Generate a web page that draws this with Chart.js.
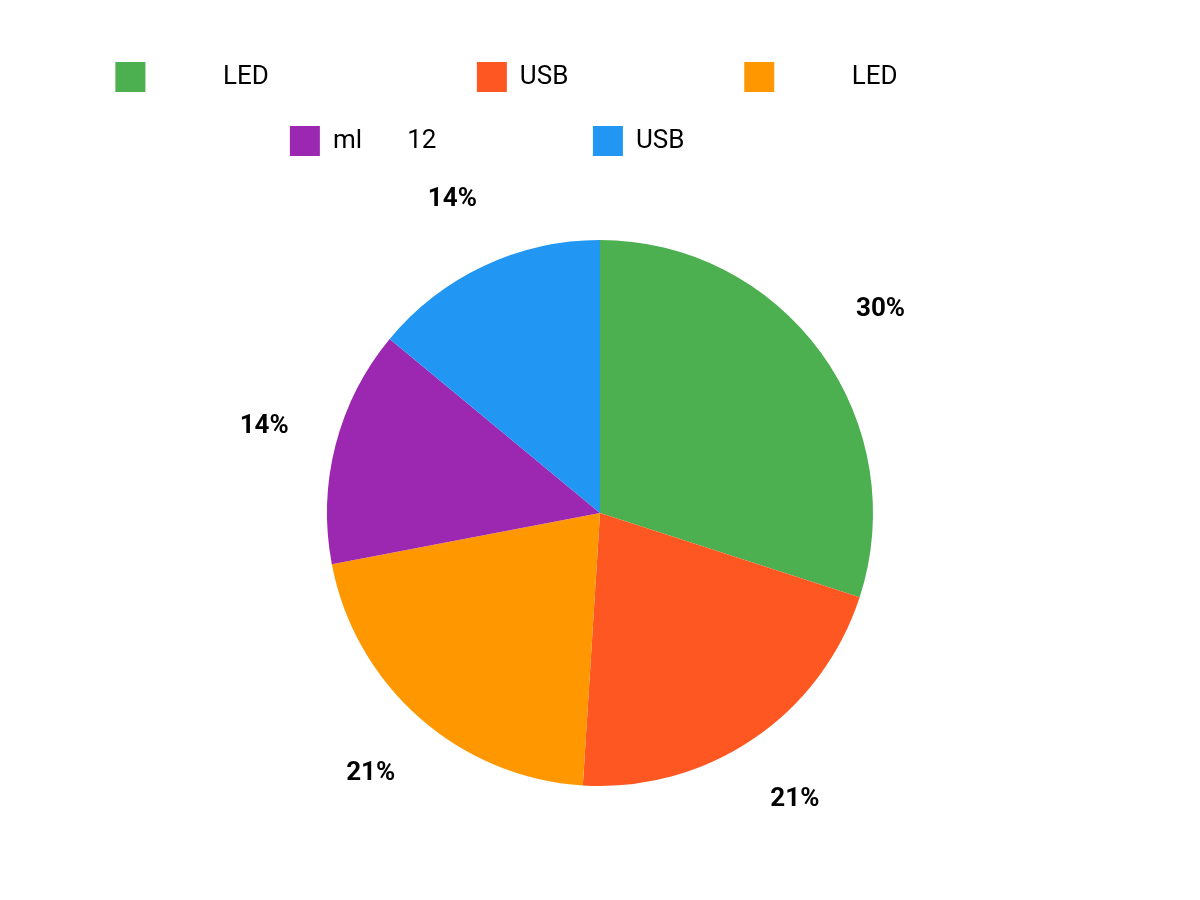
<!DOCTYPE html>
<html>
<head>
<meta charset="utf-8">
<script src="https://cdn.jsdelivr.net/npm/chart.js@4"></script>
<style>
  html, body { margin: 0; padding: 0; background: #fff; }
  #wrap { width: 1200px; height: 900px; }
</style>
</head>
<body>
<div id="wrap"><canvas id="pie"></canvas></div>
<script>
// some label characters are not readable in the reference, kept as blank space
const sp = (n) => '\u00a0'.repeat(n);
const labels = [
  sp(10) + 'LED' + sp(27),
  'USB' + sp(22),
  sp(10) + 'LED' + sp(29),
  'ml' + sp(7) + '12' + sp(19),
  'USB' + sp(35),
];
const values = [30, 21, 21, 14, 14];
const colors = ['#4caf50', '#ff5722', '#ff9800', '#9c27b0', '#2196f3'];

// percentage labels outside each slice
const outsideLabels = {
  id: 'outsideLabels',
  afterDatasetsDraw(chart) {
    const ctx = chart.ctx;
    const total = values.reduce((a, b) => a + b, 0);
    ctx.save();
    ctx.font = 'bold 26px Roboto';
    ctx.fillStyle = '#000';
    ctx.textAlign = 'center';
    ctx.textBaseline = 'middle';
    chart.getDatasetMeta(0).data.forEach((arc, i) => {
      const mid = (arc.startAngle + arc.endAngle) / 2;
      const r = arc.outerRadius * 1.27;
      const x = arc.x + Math.cos(mid) * r;
      const y = arc.y + Math.sin(mid) * r;
      ctx.fillText(Math.round(values[i] / total * 100) + '%', x, y);
    });
    ctx.restore();
  }
};

const piechart = new Chart(document.getElementById('pie'), {
  type: 'pie',
  data: {
    labels: labels,
    datasets: [{
      data: values,
      backgroundColor: colors,
      borderWidth: 0,
    }],
  },
  options: {
    responsive: true,
    maintainAspectRatio: false,
    animation: false,
    radius: 273,
    layout: { padding: { top: 28, bottom: 40 } },
    plugins: {
      tooltip: { enabled: false },
      legend: {
        position: 'top',
        labels: {
          font: { family: 'Roboto', size: 26 },
          color: '#000',
          boxWidth: 30,
          boxHeight: 30,
          padding: 34,
        },
      },
    },
  },
  plugins: [outsideLabels],
});
</script>
</body>
</html>
